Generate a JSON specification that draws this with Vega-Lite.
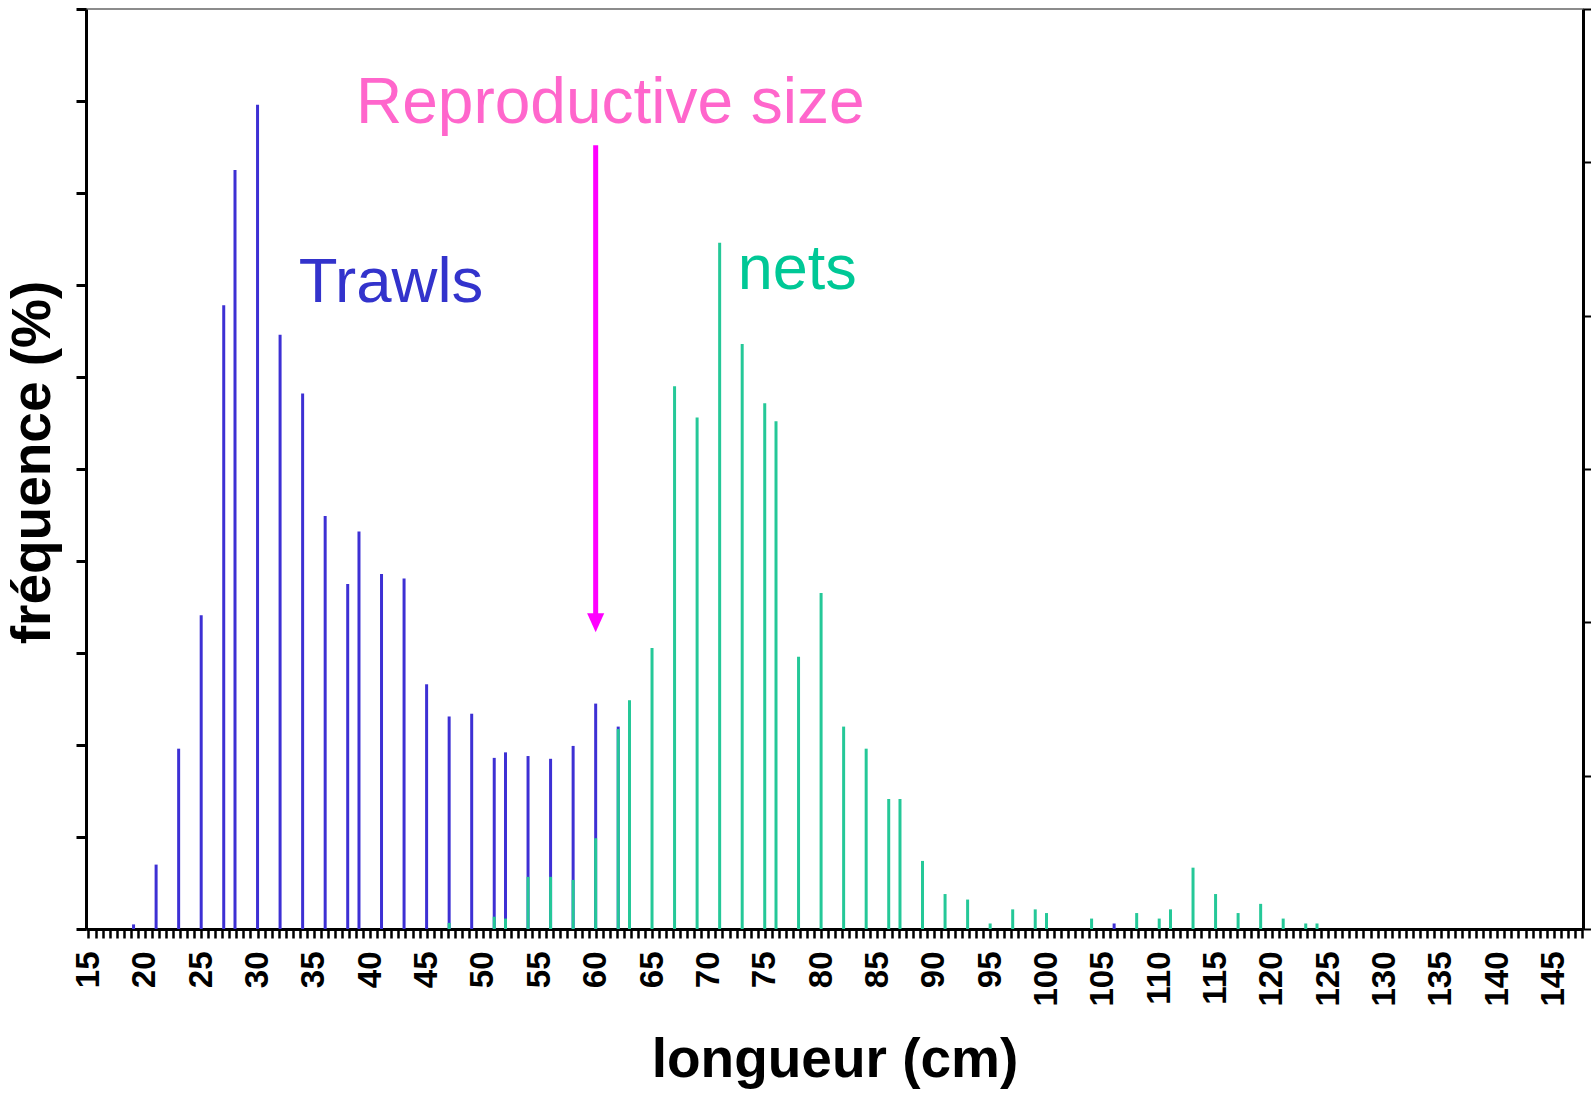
{
  "$schema": "https://vega.github.io/schema/vega-lite/v6.json",
  "autosize": {"type": "none"},
  "padding": {"left": 86, "top": 9, "right": 8, "bottom": 164},
  "width": 1497,
  "height": 920,
  "background": "white",
  "config": {
    "font": "Liberation Sans",
    "view": {"stroke": "#8c8c8c", "strokeWidth": 2},
    "axis": {"grid": false, "domainColor": "black", "tickColor": "black", "labelColor": "black", "titleColor": "black"}
  },
  "datasets": {
    "trawls": [
      {"cm": 19, "freq": 0.05}, {"cm": 21, "freq": 0.7}, {"cm": 23, "freq": 1.96}, {"cm": 25, "freq": 3.41},
      {"cm": 27, "freq": 6.78}, {"cm": 28, "freq": 8.25}, {"cm": 30, "freq": 8.96}, {"cm": 32, "freq": 6.46},
      {"cm": 34, "freq": 5.82}, {"cm": 36, "freq": 4.49}, {"cm": 38, "freq": 3.75}, {"cm": 39, "freq": 4.32},
      {"cm": 41, "freq": 3.86}, {"cm": 43, "freq": 3.81}, {"cm": 45, "freq": 2.66}, {"cm": 47, "freq": 2.31},
      {"cm": 49, "freq": 2.34}, {"cm": 51, "freq": 1.86}, {"cm": 52, "freq": 1.92}, {"cm": 54, "freq": 1.88},
      {"cm": 56, "freq": 1.85}, {"cm": 58, "freq": 1.99}, {"cm": 60, "freq": 2.45}, {"cm": 62, "freq": 2.2},
      {"cm": 106, "freq": 0.06}
    ],
    "nets": [
      {"cm": 47, "freq": 0.1}, {"cm": 51, "freq": 0.2}, {"cm": 52, "freq": 0.17}, {"cm": 54, "freq": 0.85},
      {"cm": 56, "freq": 0.85}, {"cm": 58, "freq": 0.8}, {"cm": 60, "freq": 1.48}, {"cm": 62, "freq": 3.26},
      {"cm": 63, "freq": 3.73}, {"cm": 65, "freq": 4.58}, {"cm": 67, "freq": 8.85}, {"cm": 69, "freq": 8.34},
      {"cm": 71, "freq": 11.19}, {"cm": 73, "freq": 9.54}, {"cm": 75, "freq": 8.57}, {"cm": 76, "freq": 8.28},
      {"cm": 78, "freq": 4.44}, {"cm": 80, "freq": 5.48}, {"cm": 82, "freq": 3.3}, {"cm": 84, "freq": 2.94},
      {"cm": 86, "freq": 2.12}, {"cm": 87, "freq": 2.12}, {"cm": 89, "freq": 1.11}, {"cm": 91, "freq": 0.57},
      {"cm": 93, "freq": 0.48}, {"cm": 95, "freq": 0.09}, {"cm": 97, "freq": 0.32}, {"cm": 99, "freq": 0.32},
      {"cm": 100, "freq": 0.26}, {"cm": 104, "freq": 0.17}, {"cm": 108, "freq": 0.26}, {"cm": 110, "freq": 0.17},
      {"cm": 111, "freq": 0.32}, {"cm": 113, "freq": 1.0}, {"cm": 115, "freq": 0.57}, {"cm": 117, "freq": 0.26},
      {"cm": 119, "freq": 0.41}, {"cm": 121, "freq": 0.17}, {"cm": 123, "freq": 0.09}, {"cm": 124, "freq": 0.09}
    ]
  },
  "encoding": {
    "x": {
      "field": "cm",
      "type": "quantitative",
      "scale": {"domain": [14.78, 147.6], "nice": false, "zero": false},
      "axis": {
        "orient": "bottom",
        "values": [
          15, 15.625, 16.25, 16.875, 17.5, 18.125, 18.75, 19.375,
          20, 20.625, 21.25, 21.875, 22.5, 23.125, 23.75, 24.375,
          25, 25.625, 26.25, 26.875, 27.5, 28.125, 28.75, 29.375,
          30, 30.625, 31.25, 31.875, 32.5, 33.125, 33.75, 34.375,
          35, 35.625, 36.25, 36.875, 37.5, 38.125, 38.75, 39.375,
          40, 40.625, 41.25, 41.875, 42.5, 43.125, 43.75, 44.375,
          45, 45.625, 46.25, 46.875, 47.5, 48.125, 48.75, 49.375,
          50, 50.625, 51.25, 51.875, 52.5, 53.125, 53.75, 54.375,
          55, 55.625, 56.25, 56.875, 57.5, 58.125, 58.75, 59.375,
          60, 60.625, 61.25, 61.875, 62.5, 63.125, 63.75, 64.375,
          65, 65.625, 66.25, 66.875, 67.5, 68.125, 68.75, 69.375,
          70, 70.625, 71.25, 71.875, 72.5, 73.125, 73.75, 74.375,
          75, 75.625, 76.25, 76.875, 77.5, 78.125, 78.75, 79.375,
          80, 80.625, 81.25, 81.875, 82.5, 83.125, 83.75, 84.375,
          85, 85.625, 86.25, 86.875, 87.5, 88.125, 88.75, 89.375,
          90, 90.625, 91.25, 91.875, 92.5, 93.125, 93.75, 94.375,
          95, 95.625, 96.25, 96.875, 97.5, 98.125, 98.75, 99.375,
          100, 100.625, 101.25, 101.875, 102.5, 103.125, 103.75, 104.375,
          105, 105.625, 106.25, 106.875, 107.5, 108.125, 108.75, 109.375,
          110, 110.625, 111.25, 111.875, 112.5, 113.125, 113.75, 114.375,
          115, 115.625, 116.25, 116.875, 117.5, 118.125, 118.75, 119.375,
          120, 120.625, 121.25, 121.875, 122.5, 123.125, 123.75, 124.375,
          125, 125.625, 126.25, 126.875, 127.5, 128.125, 128.75, 129.375,
          130, 130.625, 131.25, 131.875, 132.5, 133.125, 133.75, 134.375,
          135, 135.625, 136.25, 136.875, 137.5, 138.125, 138.75, 139.375,
          140, 140.625, 141.25, 141.875, 142.5, 143.125, 143.75, 144.375,
          145, 145.625, 146.25, 146.875, 147.5
        ],
        "labelExpr": "datum.value % 5 === 0 ? format(datum.value, 'd') : ''",
        "labelAngle": 270,
        "labelFontSize": 33,
        "labelFontWeight": "bold",
        "labelPadding": 13,
        "labelOverlap": false,
        "labelFlush": false,
        "tickSize": 9,
        "tickWidth": 2.5,
        "domainWidth": 3,
        "title": "longueur (cm)",
        "titleFontSize": 55,
        "titleFontWeight": "bold",
        "titlePadding": 27
      }
    }
  },
  "layer": [
    {
      "data": {"name": "trawls"},
      "mark": {"type": "rule", "color": "#3d30d4", "strokeWidth": 3},
      "encoding": {
        "y": {
          "field": "freq",
          "type": "quantitative",
          "scale": {"domain": [0, 10], "nice": false},
          "axis": {
            "orient": "left",
            "values": [0, 1, 2, 3, 4, 5, 6, 7, 8, 9, 10],
            "labels": false,
            "tickSize": 10,
            "tickWidth": 3,
            "domainWidth": 3,
            "title": "fréquence (%)",
            "titleFontSize": 55,
            "titleFontWeight": "bold",
            "titlePadding": 13,
            "titleY": 453
          }
        },
        "y2": {"datum": 0}
      }
    },
    {
      "data": {"name": "nets"},
      "mark": {"type": "rule", "color": "#25c898", "strokeWidth": 3},
      "encoding": {
        "y": {
          "field": "freq",
          "type": "quantitative",
          "scale": {"domain": [0, 15], "nice": false},
          "axis": {
            "orient": "right",
            "values": [0, 2.5, 5, 7.5, 10, 12.5, 15],
            "labels": false,
            "tickSize": 8,
            "tickWidth": 2,
            "domainWidth": 3,
            "title": null
          }
        },
        "y2": {"datum": 0}
      }
    },
    {
      "data": {"values": [{"cm": 61.3, "y": 8.76, "label": "Reproductive size"}]},
      "mark": {"type": "text", "color": "#ff66cc", "fontSize": 64, "align": "center", "baseline": "alphabetic"},
      "encoding": {
        "y": {"field": "y", "type": "quantitative", "scale": {"domain": [0, 10], "nice": false}, "axis": null},
        "text": {"field": "label"}
      }
    },
    {
      "data": {"values": [{"cm": 33.65, "y": 6.815, "label": "Trawls"}]},
      "mark": {"type": "text", "color": "#3333cc", "fontSize": 63.5, "align": "left", "baseline": "alphabetic"},
      "encoding": {
        "y": {"field": "y", "type": "quantitative", "scale": {"domain": [0, 10], "nice": false}, "axis": null},
        "text": {"field": "label"}
      }
    },
    {
      "data": {"values": [{"cm": 72.6, "y": 6.957, "label": "nets"}]},
      "mark": {"type": "text", "color": "#00c896", "fontSize": 63, "align": "left", "baseline": "alphabetic"},
      "encoding": {
        "y": {"field": "y", "type": "quantitative", "scale": {"domain": [0, 10], "nice": false}, "axis": null},
        "text": {"field": "label"}
      }
    },
    {
      "data": {"values": [{"cm": 60, "top": 8.52, "tip": 3.4}]},
      "mark": {"type": "rule", "color": "#ff00ff", "strokeWidth": 5},
      "encoding": {
        "y": {"field": "top", "type": "quantitative", "scale": {"domain": [0, 10], "nice": false}, "axis": null},
        "y2": {"field": "tip"}
      }
    },
    {
      "data": {"values": [{"cm": 60, "y": 3.33}]},
      "mark": {"type": "point", "shape": "M-0.9,-1L0.9,-1L0,1Z", "size": 361, "filled": true, "color": "#ff00ff", "opacity": 1, "strokeWidth": 0},
      "encoding": {
        "y": {"field": "y", "type": "quantitative", "scale": {"domain": [0, 10], "nice": false}, "axis": null}
      }
    }
  ],
  "resolve": {"scale": {"y": "independent"}}
}
